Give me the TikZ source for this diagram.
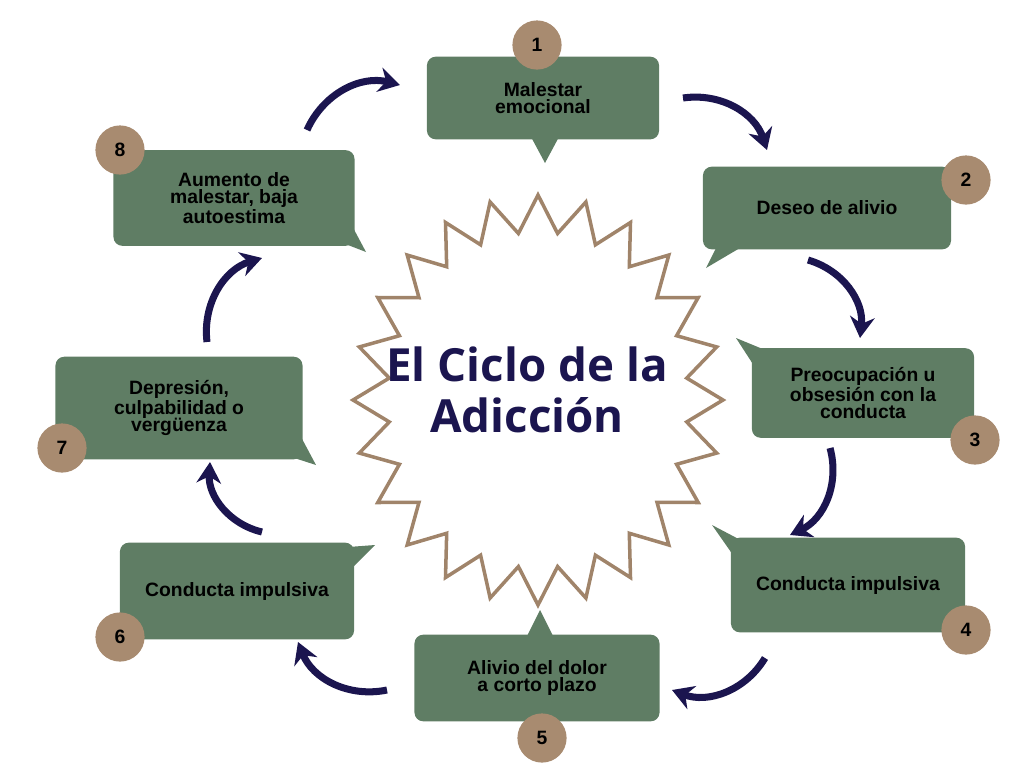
\documentclass[tikz,border=0pt]{standalone}
\usepackage{fontspec}
\setmainfont{Liberation Sans}
\newfontfamily\titlefont{Open Sans}
\usetikzlibrary{positioning,arrows.meta}
\definecolor{boxgreen}{HTML}{5F7D64}
\definecolor{numbrown}{HTML}{A88B70}
\definecolor{starbrown}{HTML}{A0846A}
\definecolor{cyclenavy}{HTML}{1B154F}
\tikzset{
  stepbox/.style = {fill=boxgreen, rounded corners=5pt, align=center, font=\bfseries\fontsize{11}{10}\selectfont, text=black},
  num/.style = {circle, fill=numbrown, minimum size=28pt, inner sep=0pt, font=\bfseries\fontsize{11}{12}\selectfont},
  cyclearrow/.style = {cyclenavy, line width=4pt, -{Stealth[length=12pt,width=14pt]}},
}
\begin{document}
\begin{tikzpicture}[x=0.02cm, y=-0.02cm]
  \useasboundingbox (0,0) rectangle (1024,768);
  % star
  \draw[starbrown, fill=white, line width=2pt]
    plot[samples at={0,...,48}] ({538+(mod(\x,2)==0 ? 185 : 150)*cos(\x*7.5-90)}, {400+(mod(\x,2)==0 ? 205 : 168)*sin(\x*7.5-90)}) -- cycle;
  \node[text=cyclenavy, align=center, font=\titlefont\bfseries\fontsize{26}{29}\selectfont] (title) at (527,390) {El Ciclo de la\\Adicción};
  % boxes
  \fill[boxgreen] (530,135) -- (545,163) -- (560,135) -- cycle;
  \node[stepbox, minimum width=233*0.567pt, minimum height=83*0.567pt] (s1) at (543,98) {Malestar\\emocional};
  \fill[boxgreen] (720,240) -- (706,268) -- (745,245) -- cycle;
  \node[stepbox, minimum width=249*0.567pt, minimum height=83*0.567pt] (s2) at (827,208) {Deseo de alivio};
  \fill[boxgreen] (770,352) -- (736,338) -- (760,375) -- cycle;
  \node[stepbox, minimum width=223*0.567pt, minimum height=90*0.567pt] (s3) at (863,393) {Preocupación u\\obsesión con la\\conducta};
  \fill[boxgreen] (750,545) -- (712,525) -- (740,565) -- cycle;
  \node[stepbox, minimum width=235*0.567pt, minimum height=95*0.567pt] (s4) at (848,585) {Conducta impulsiva};
  \fill[boxgreen] (525,640) -- (540,610) -- (555,640) -- cycle;
  \node[stepbox, minimum width=246*0.567pt, minimum height=87*0.567pt] (s5) at (537,678) {Alivio del dolor\\a corto plazo};
  \fill[boxgreen] (335,548) -- (375,545) -- (350,570) -- cycle;
  \node[stepbox, minimum width=235*0.567pt, minimum height=97*0.567pt] (s6) at (237,591) {Conducta impulsiva};
  \fill[boxgreen] (285,455) -- (316,465) -- (300,435) -- cycle;
  \node[stepbox, minimum width=248*0.567pt, minimum height=103*0.567pt] (s7) at (179,408) {Depresión,\\culpabilidad o\\vergüenza};
  \fill[boxgreen] (335,240) -- (366,252) -- (350,222) -- cycle;
  \node[stepbox, minimum width=242*0.567pt, minimum height=96*0.567pt] (s8) at (234,198) {Aumento de\\malestar, baja\\autoestima};
  % numbers
  \foreach \n/\px/\py in {1/537/45, 2/966/180, 3/975/440, 4/966/630, 5/542/738, 6/120/637, 7/62/448, 8/120/150}
    \node[num] (n\n) at (\px,\py) {\n};
  % arrows
  \coordinate (a1) at (683,98);  \coordinate (b1) at (767,150);
  \coordinate (a2) at (808,260); \coordinate (b2) at (860,338);
  \coordinate (a3) at (830,448); \coordinate (b3) at (790,535);
  \coordinate (a4) at (765,658); \coordinate (b4) at (672,690);
  \coordinate (a5) at (387,690); \coordinate (b5) at (298,642);
  \coordinate (a6) at (262,532); \coordinate (b6) at (210,462);
  \coordinate (a7) at (207,342); \coordinate (b7) at (262,258);
  \coordinate (a8) at (307,130); \coordinate (b8) at (400,85);
  \foreach \i in {1,...,8}
    \draw[cyclearrow] (a\i) to[bend left=40] (b\i);
\end{tikzpicture}
\end{document}
